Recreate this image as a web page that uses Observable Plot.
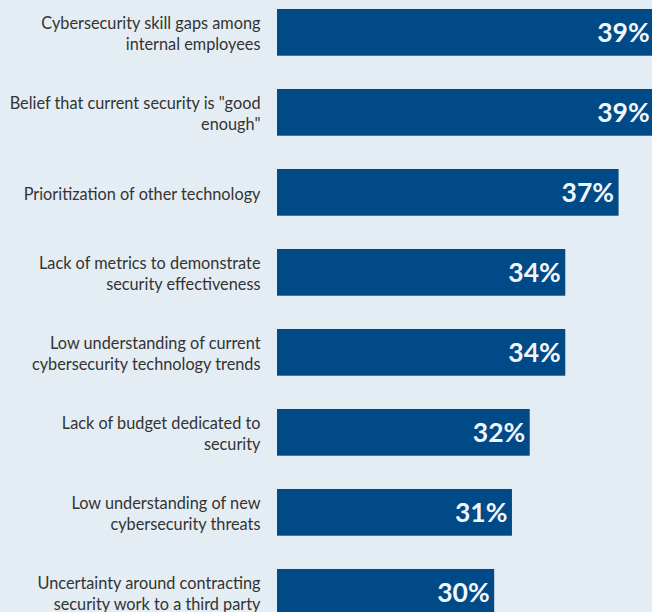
<!DOCTYPE html>
<html>
<head>
<meta charset="utf-8">
<script src="https://cdn.jsdelivr.net/npm/d3@7"></script>
<script src="https://cdn.jsdelivr.net/npm/@observablehq/plot@0.6"></script>
<style>
  html, body { margin: 0; padding: 0; background: #e5edf4; }
  #chart { width: 652px; height: 612px; overflow: hidden; }
  #chart svg { display: block; }
</style>
</head>
<body>
<div id="chart"></div>
<script>
const categories = [
  "Cybersecurity skill gaps among\ninternal employees",
  "Belief that current security is \"good\nenough\"",
  "Prioritization of other technology",
  "Lack of metrics to demonstrate\nsecurity effectiveness",
  "Low understanding of current\ncybersecurity technology trends",
  "Lack of budget dedicated to\nsecurity",
  "Low understanding of new\ncybersecurity threats",
  "Uncertainty around contracting\nsecurity work to a third party"
];
const values = [39, 39, 37, 34, 34, 32, 31, 30];
const labels = ["39%", "39%", "37%", "34%", "34%", "32%", "31%", "30%"];

const data = categories.map((c, i) => ({category: c, value: values[i], label: labels[i]}));

const chart = Plot.plot({
  width: 652,
  height: 612,
  marginLeft: 277,
  marginRight: 0,
  marginTop: 9,
  marginBottom: -3.7,
  style: {background: "#e5edf4", fontFamily: "Lato, sans-serif", overflow: "hidden"},
  x: {domain: [17.78, 38.88], axis: null},
  y: {domain: categories, paddingInner: 0.416, paddingOuter: 0, round: false, label: null},
  marks: [
    Plot.barX(data, {x1: 17.78, x2: "value", y: "category", fill: "#004a87", clip: true}),
    Plot.text(data, {x: "value", y: "category", text: "label", textAnchor: "end", dx: -5, dy: 1,
      fill: "#f2f6fa", fontSize: 26.5, fontWeight: "bold"}),
    Plot.axisY({tickSize: 0, tickPadding: 17, fontSize: 16.3, color: "#333", lineHeight: 1.3, label: null})
  ]
});
document.getElementById("chart").appendChild(chart);
</script>
</body>
</html>
